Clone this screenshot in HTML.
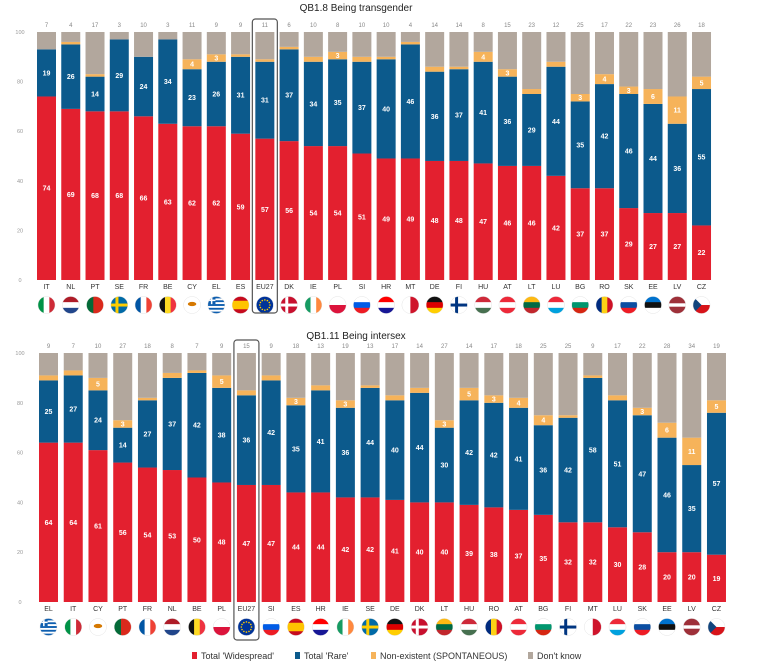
<!DOCTYPE html>
<html><head><meta charset="utf-8">
<style>
html,body{margin:0;padding:0;background:#fff;}
svg{display:block;font-family:"Liberation Sans",sans-serif;}
</style></head>
<body>
<svg id="chart" width="784" height="662" viewBox="0 0 784 662" xmlns="http://www.w3.org/2000/svg"></svg>
<script>
// Chart 1: QB1.8 Being transgender
const countries1 = ["IT","NL","PT","SE","FR","BE","CY","EL","ES","EU27","DK","IE","PL","SI","HR","MT","DE","FI","HU","AT","LT","LU","BG","RO","SK","EE","LV","CZ"];
const widespread1 = [74,69,68,68,66,63,62,62,59,57,56,54,54,51,49,49,48,48,47,46,46,42,37,37,29,27,27,22];
const rare1 = [19,26,14,29,24,34,23,26,31,31,37,34,35,37,40,46,36,37,41,36,29,44,35,42,46,44,36,55];
const nonexistent1 = [0,1,1,0,0,0,4,3,1,1,1,2,3,2,1,1,2,1,4,3,2,2,3,4,3,6,11,5];
const dontknow1 = [7,4,17,3,10,3,11,9,9,11,6,10,8,10,10,4,14,14,8,15,23,12,25,17,22,23,26,18];
// Chart 2: QB1.11 Being intersex
const countries2 = ["EL","IT","CY","PT","FR","NL","BE","PL","EU27","SI","ES","HR","IE","SE","DE","DK","LT","HU","RO","AT","BG","FI","MT","LU","SK","EE","LV","CZ"];
const widespread2 = [64,64,61,56,54,53,50,48,47,47,44,44,42,42,41,40,40,39,38,37,35,32,32,30,28,20,20,19];
const rare2 = [25,27,24,14,27,37,42,38,36,42,35,41,36,44,40,44,30,42,42,41,36,42,58,51,47,46,35,57];
const nonexistent2 = [2,2,5,3,1,2,1,5,2,2,3,2,3,1,2,2,3,5,3,4,4,1,1,2,3,6,11,5];
const dontknow2 = [9,7,10,27,18,8,7,9,15,9,18,13,19,13,17,14,27,14,17,18,25,25,9,17,22,28,34,19];
const yTicks = [0,20,40,60,80,100];

const COL = {w:"#e3202f", r:"#0c5a8c", n:"#f6b35a", d:"#b2a79d"};
const NS = "http://www.w3.org/2000/svg";
const svg = document.getElementById("chart");
function mk(tag, attrs, parent){
  const e = document.createElementNS(NS, tag);
  for (const k in attrs) e.setAttribute(k, attrs[k]);
  (parent||svg).appendChild(e);
  return e;
}
const FLAGS = {
  IT:["v",["#009246","#fff","#ce2b37"]], NL:["h",["#ae1c28","#fff","#21468b"]],
  PT:["vw",["#046a38","#da291c"],[2,3]], SE:["x",["#006aa7","#fecc00"]],
  FR:["v",["#0055a4","#fff","#ef4135"]], BE:["v",["#111","#fdda24","#ef3340"]],
  CY:["cy",["#fff","#d57800"]], EL:["el",["#0d5eaf","#fff"]],
  ES:["hw",["#c60b1e","#ffc400","#c60b1e"],[1,2,1]], EU27:["eu",["#003399","#ffcc00"]],
  DK:["x",["#c8102e","#fff"]], IE:["v",["#169b62","#fff","#ff883e"]],
  PL:["h",["#fff","#dc143c"]], SI:["h",["#fff","#005ce6","#ed1c24"]],
  HR:["h",["#ff0000","#fff","#171796"]], MT:["v",["#fff","#cf142b"]],
  DE:["h",["#111","#dd0000","#ffce00"]], FI:["x",["#fff","#003580"]],
  HU:["h",["#ce2939","#fff","#477050"]], AT:["h",["#ed2939","#fff","#ed2939"]],
  LT:["h",["#fdb913","#006a44","#c1272d"]], LU:["h",["#ed2939","#fff","#00a1de"]],
  BG:["h",["#fff","#00966e","#d62612"]], RO:["v",["#002b7f","#fcd116","#ce1126"]],
  SK:["h",["#fff","#0b4ea2","#ee1c25"]], EE:["h",["#0072ce","#111","#fff"]],
  LV:["hw",["#9e3039","#fff","#9e3039"],[2,1,2]], CZ:["cz",["#fff","#d7141a","#11457e"]]
};
let fid=0;
function flag(code, cx, cy, r){
  const g = mk("g",{});
  
  
  const id = "fc"+(fid++);
  const cp = mk("clipPath",{id:id},g); mk("circle",{cx:cx,cy:cy,r:r},cp);
  const inner = mk("g",{"clip-path":"url(#"+id+")"},g);
  const [t,c,w] = FLAGS[code]; const x0=cx-r, y0=cy-r, d=2*r;
  if(t==="h"||t==="v"||t==="hw"||t==="vw"){
    const ws = w||c.map(()=>1); const tot = ws.reduce((a,b)=>a+b,0); let acc=0;
    c.forEach((col,i)=>{
      const s=acc/tot*d, len=ws[i]/tot*d; acc+=ws[i];
      if(t[0]==="h") mk("rect",{x:x0,y:y0+s,width:d,height:len+0.3,fill:col},inner);
      else mk("rect",{x:x0+s,y:y0,width:len+0.3,height:d,fill:col},inner);
    });
  } else if(t==="x"){
    mk("rect",{x:x0,y:y0,width:d,height:d,fill:c[0]},inner);
    mk("rect",{x:cx-r*0.45,y:y0,width:r*0.35,height:d,fill:c[1]},inner);
    mk("rect",{x:x0,y:cy-r*0.17,width:d,height:r*0.35,fill:c[1]},inner);
  } else if(t==="cy"){
    mk("rect",{x:x0,y:y0,width:d,height:d,fill:c[0]},inner);
    mk("ellipse",{cx:cx,cy:cy-1,rx:r*0.5,ry:r*0.25,fill:c[1]},inner);
  } else if(t==="el"){
    for(let i=0;i<9;i++) mk("rect",{x:x0,y:y0+i*d/9,width:d,height:d/9+0.2,fill:i%2?c[1]:c[0]},inner);
    mk("rect",{x:x0,y:y0,width:d*0.45,height:d*0.45,fill:c[0]},inner);
    mk("rect",{x:x0+d*0.18,y:y0,width:d*0.09,height:d*0.45,fill:c[1]},inner);
    mk("rect",{x:x0,y:y0+d*0.18,width:d*0.45,height:d*0.09,fill:c[1]},inner);
  } else if(t==="eu"){
    mk("rect",{x:x0,y:y0,width:d,height:d,fill:c[0]},inner);
    for(let i=0;i<12;i++){const a=i*Math.PI/6; mk("circle",{cx:cx+Math.cos(a)*r*0.6,cy:cy+Math.sin(a)*r*0.6,r:0.8,fill:c[1]},inner);}
  } else if(t==="cz"){
    mk("rect",{x:x0,y:y0,width:d,height:r,fill:c[0]},inner);
    mk("rect",{x:x0,y:cy,width:d,height:r,fill:c[1]},inner);
    mk("polygon",{points:`${x0},${y0} ${cx},${cy} ${x0},${y0+d}`,fill:c[2]},inner);
  }
  mk("circle",{cx:cx,cy:cy,r:r,fill:"none",stroke:"#ddd","stroke-width":0.4},g);
}
function drawChart(key, title, titleY, cats, w, r, n, dk, x0, pitch, bw, yBase, yTop, euBox){
  const scale = v => yBase - v*(yBase-yTop)/100;
  const t = mk("text",{x:356,y:titleY,"text-anchor":"middle","font-size":10,fill:"#222"});
  t.textContent = title;
  
  
  yTicks.forEach(v=>{
    const tx = mk("text",{x:20,y:scale(v)+2,"text-anchor":"middle","font-size":5.5,fill:"#999"});
    tx.textContent = v;
    
    
  });
  cats.forEach((c,i)=>{
    const x = x0 + i*pitch;
    const series = [["w",w[i]],["r",r[i]],["n",n[i]],["d",dk[i]]];
    let acc = 0;
    series.forEach(([s,v])=>{
      if(v<=0) return;
      const yTopSeg = scale(acc+v), yBot = scale(acc);
      const rect = mk("rect",{x:x,y:yTopSeg,width:bw,height:yBot-yTopSeg,fill:COL[s]});
      
      
      if((s==="w"||s==="r") || (s==="n" && v>=3)){
        const lb = mk("text",{x:x+bw/2,y:(yTopSeg+yBot)/2+2.5,"text-anchor":"middle","font-size":7,"font-weight":"bold",fill:"#fff"});
        lb.textContent = v;
        
        
      }
      acc += v;
    });
    const top = mk("text",{x:x+bw/2,y:yTop-5,"text-anchor":"middle","font-size":6,fill:"#888"});
    top.textContent = dk[i];
    
    
    const cl = mk("text",{x:x+bw/2,y:yBase+9,"text-anchor":"middle","font-size":7,fill:"#333"});
    cl.textContent = c;
    
    
    flag(c, x+bw/2, yBase+25, 8.5);
    if(c==="EU27"){
      const b = mk("rect",{x:x-3,y:yTop-13,width:bw+6,height:euBox,rx:3,fill:"none",stroke:"#555","stroke-width":1.2});
      
      
    }
  });
}
drawChart("transgender","QB1.8 Being transgender",11,countries1,widespread1,rare1,nonexistent1,dontknow1,37,24.26,19,280,32,294);
drawChart("intersex","QB1.11 Being intersex",339,countries2,widespread2,rare2,nonexistent2,dontknow2,39,24.74,19,602,353,300);
// legend
const legend = [["w","Total 'Widespread'",195],["r","Total 'Rare'",298],["n","Non-existent (SPONTANEOUS)",374],["d","Don't know",531]];
legend.forEach(([k,label,x])=>{
  const g = mk("g",{});
  
  
  mk("rect",{x:x-3,y:652,width:5,height:7,fill:COL[k]},g);
  const t = mk("text",{x:x+6,y:659,"font-size":9,fill:"#333"},g);
  t.textContent = label;
});
</script>
</body></html>
